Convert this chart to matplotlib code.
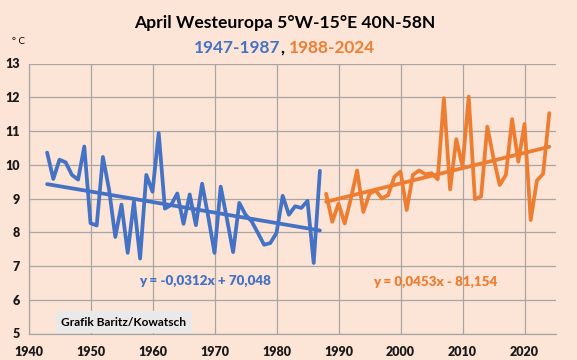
import matplotlib
matplotlib.use("Agg")
import matplotlib.pyplot as plt
import numpy as np

# ---- data ----
years_a = list(range(1943, 1988))
temps_a = [10.36, 9.58, 10.15, 10.07, 9.70, 9.56, 10.54, 8.27, 8.20, 10.23,
           9.26, 7.86, 8.82, 7.39, 8.91, 7.22, 9.70, 9.20, 10.94, 8.70,
           8.81, 9.15, 8.25, 9.12, 8.21, 9.44, 8.45, 7.39, 9.35, 8.40,
           7.41, 8.87, 8.52, 8.32, 7.98, 7.63, 7.68, 7.98, 9.08, 8.52,
           8.77, 8.72, 8.93, 7.09, 9.82]
years_b = list(range(1988, 2025))
temps_b = [9.14, 8.31, 8.85, 8.26, 9.00, 9.83, 8.60, 9.14, 9.24, 9.00,
           9.10, 9.64, 9.80, 8.66, 9.70, 9.83, 9.72, 9.75, 9.57, 11.97,
           9.27, 10.76, 9.95, 12.02, 8.98, 9.06, 11.13, 10.20, 9.40, 9.70,
           11.35, 10.09, 11.21, 8.36, 9.53, 9.73, 11.53]
trend_a = (-0.0312, 70.048)
trend_b = (0.0453, -81.154)
label_a = "y = -0,0312x + 70,048"
label_b = "y = 0,0453x - 81,154"
xticks = list(range(1940, 2021, 10))
yticks = list(range(5, 14))
title = "April Westeuropa 5°W-15°E 40N-58N"
sub_a = "1947-1987"
sub_b = "1988-2024"
credit = "Grafik Baritz/Kowatsch"

BG = "#FCE4D6"
BLUE = "#4472C4"
ORANGE = "#ED7D31"
GRID = "#A6A6A6"
FONT = ["Lato", "DejaVu Sans"]

fig = plt.figure(figsize=(5.77, 3.60), dpi=100, facecolor=BG)
ax = fig.add_axes([28.5 / 577, 26.5 / 360, 527 / 577, 270 / 360])
ax.set_facecolor(BG)

ax.plot(years_a, temps_a, color=BLUE, lw=2.7, solid_joinstyle="round", solid_capstyle="round", zorder=3)
ax.plot(years_b, temps_b, color=ORANGE, lw=2.7, solid_joinstyle="round", solid_capstyle="round", zorder=3)

xa = np.array([years_a[0], years_a[-1]])
ax.plot(xa, trend_a[0] * xa + trend_a[1], color=BLUE, lw=2.7, solid_capstyle="round", zorder=3)
xb = np.array([years_b[0], years_b[-1]])
ax.plot(xb, trend_b[0] * xb + trend_b[1], color=ORANGE, lw=2.7, solid_capstyle="round", zorder=3)

ax.set_xlim(1940, 2025)
ax.set_ylim(5, 13)
ax.set_xticks(xticks)
ax.set_yticks(yticks)
ax.grid(True, color=GRID, lw=0.9)
ax.set_axisbelow(True)
for s in ["top", "right"]:
    ax.spines[s].set_visible(False)
for s in ["left", "bottom"]:
    ax.spines[s].set_color(GRID)
    ax.spines[s].set_linewidth(0.9)
ax.tick_params(length=0)
ax.tick_params(axis="x", pad=9)
ax.tick_params(axis="y", pad=6)
for lab in ax.get_xticklabels() + ax.get_yticklabels():
    lab.set_fontfamily(FONT)
    lab.set_fontweight("heavy")
    lab.set_fontsize(9)
    lab.set_color("#1a1a1a")

ax.text(0.210, 0.193, label_a, transform=ax.transAxes, color=BLUE, fontsize=9.6,
        fontweight="heavy", family=FONT, ha="left", va="center")
ax.text(0.653, 0.190, label_b, transform=ax.transAxes, color=ORANGE, fontsize=9.6,
        fontweight="heavy", family=FONT, ha="left", va="center")

ax.text(0.062, 0.042, credit, transform=ax.transAxes, color="black", fontsize=8.6,
        fontweight="bold", family=FONT, ha="left", va="center",
        bbox=dict(boxstyle="square,pad=0.45", fc="#E9E9E9", ec="none"))

fig.text(284.5 / 577, 1 - 23 / 360, title, ha="center", va="center", fontsize=12.6,
         fontweight="bold", family=FONT, color="black")
fig.text(19 / 577, 1 - 41 / 360, "° C", ha="center", va="center", fontsize=7,
         family=FONT, color="black")

# two-coloured subtitle
fig.canvas.draw()
r = fig.canvas.get_renderer()
parts = [(sub_a, BLUE), (", ", "black"), (sub_b, ORANGE)]
texts = []
for s, c in parts:
    t = fig.text(0, 1 - 48 / 360, s, ha="left", va="center", fontsize=12.4,
                 fontweight="bold", family=FONT, color=c)
    texts.append(t)
widths = [t.get_window_extent(r).width for t in texts]
total = sum(widths)
x0 = 284.5 - total / 2
for t, w in zip(texts, widths):
    t.set_x(x0 / 577)
    x0 += w

fig.savefig("out.png", dpi=100, facecolor=BG)
